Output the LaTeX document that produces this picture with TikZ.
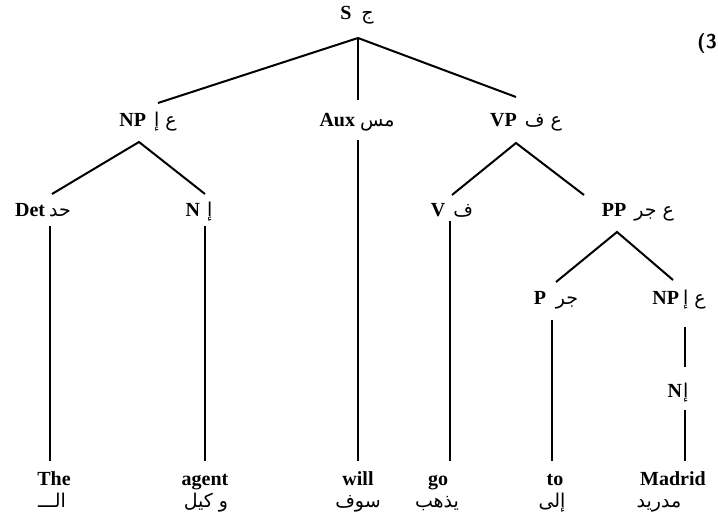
\documentclass[tikz,border=0pt]{standalone}
\usepackage{fontspec}
\setmainfont{Liberation Serif}
\newfontfamily\arabicfont[Script=Arabic]{DejaVu Sans}
\TeXXeTstate=1
\newcommand\arab[1]{{\arabicfont\fontsize{19}{21}\selectfont\mdseries\beginR #1\endR}}
\tikzset{
  lbl/.style={font=\fontsize{20}{22}\selectfont\bfseries, inner sep=0pt, anchor=base},
  leaf/.style={font=\fontsize{20}{22}\selectfont\bfseries, inner sep=0pt, anchor=base},
  edge/.style={line width=2pt, line cap=butt}
}
\begin{document}
\begin{tikzpicture}[x=1pt,y=-1pt]
\useasboundingbox (0,0) rectangle (718,521);
% labels
\node[lbl] (S) at (357,20) {S\hspace{10pt}\arab{ج}};
\node[lbl] (NP1) at (148,127) {NP\hspace{8pt}\arab{ع إ}};
\node[lbl] (Aux) at (357,127) {Aux\hspace{5pt}\arab{مس}};
\node[lbl] (VP) at (526,127) {VP\hspace{8pt}\arab{ع ف}};
\node[lbl] (Det) at (43,217) {Det\hspace{4pt}\arab{حد}};
\node[lbl] (N1) at (199,217) {N\hspace{7pt}\arab{إ}};
\node[lbl] (V) at (452,217) {V\hspace{8pt}\arab{ف}};
\node[lbl] (PP) at (638,217) {PP\hspace{8pt}\arab{ع جر}};
\node[lbl] (P) at (556,305) {P\hspace{10pt}\arab{جر}};
\node[lbl] (NP2) at (679,305) {NP\hspace{4pt}\arab{ع إ}};
\node[lbl] (N2) at (678,398) {N\hspace{1pt}\arab{إ}};
\node[lbl, font=\fontsize{20}{22}\selectfont\sffamily\bfseries, anchor=base east] (num) at (717,49) {(3};
% leaves
\node[leaf] (w1) at (54,485) {The};
\node[leaf] (w2) at (205,485) {agent};
\node[leaf] (w3) at (358,485) {will};
\node[leaf] (w4) at (438,485) {go};
\node[leaf] (w5) at (555,485) {to};
\node[leaf] (w6) at (673,485) {Madrid};
\node[leaf] (a1) at (52,507) {\arab{الـــ}};
\node[leaf] (a2) at (206,507) {\arab{و كيل}};
\node[leaf] (a3) at (358,507) {\arab{سوف}};
\node[leaf] (a4) at (437,507) {\arab{يذهب}};
\node[leaf] (a5) at (552,507) {\arab{إلى}};
\node[leaf] (a6) at (659,507) {\arab{مدريد}};
% attachment points
\coordinate (Sb) at (358,38);
\coordinate (NP1t) at (158,103);
\coordinate (Auxt) at (358,100);
\coordinate (VPt) at (516,97);
\coordinate (NP1b) at (139,142);
\coordinate (Auxb) at (358,140);
\coordinate (VPb) at (516,143);
\coordinate (Dett) at (52,194);
\coordinate (N1t) at (205,194);
\coordinate (Vt) at (452,195);
\coordinate (PPt) at (584,195);
\coordinate (Detb) at (50,226);
\coordinate (N1b) at (205,226);
\coordinate (Vb) at (450,221);
\coordinate (PPb) at (617,232);
\coordinate (Pt) at (556,282);
\coordinate (NP2t) at (673,280);
\coordinate (Pb) at (552,320);
\coordinate (NP2b) at (685,327);
\coordinate (N2t) at (685,367);
\coordinate (N2b) at (685,410);
\coordinate (w1t) at (50,461);
\coordinate (w2t) at (205,461);
\coordinate (w3t) at (358,461);
\coordinate (w4t) at (450,461);
\coordinate (w5t) at (552,461);
\coordinate (w6t) at (685,461);
% edges
\draw[edge] (NP1t) -- (Sb) -- (VPt);
\draw[edge] (Sb) -- (Auxt);
\draw[edge] (Dett) -- (NP1b) -- (N1t);
\draw[edge] (Vt) -- (VPb) -- (PPt);
\draw[edge] (Pt) -- (PPb) -- (NP2t);
\draw[edge] (Detb) -- (w1t);
\draw[edge] (N1b) -- (w2t);
\draw[edge] (Auxb) -- (w3t);
\draw[edge] (Vb) -- (w4t);
\draw[edge] (Pb) -- (w5t);
\draw[edge] (NP2b) -- (N2t);
\draw[edge] (N2b) -- (w6t);
\end{tikzpicture}
\end{document}
